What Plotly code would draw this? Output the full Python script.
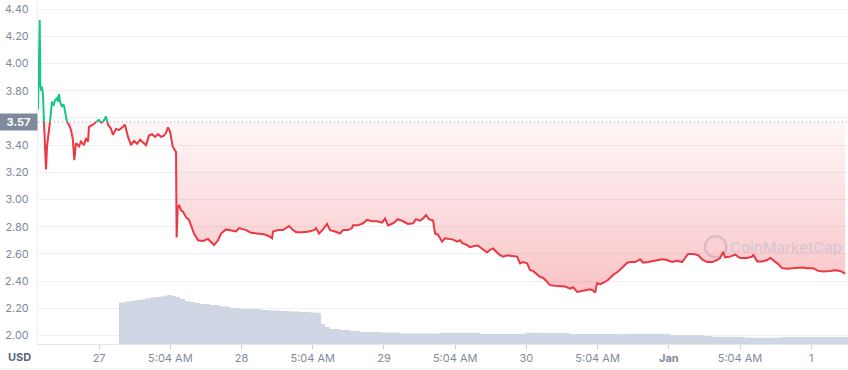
import plotly.graph_objects as go

# ---------------- data ----------------
base_price = 3.57  # reference / open price shown on the left

hours = [0.00, 0.29, 0.39, 0.54, 0.67, 0.84, 1.01, 1.18, 1.35, 1.52, 1.69, 1.85, 2.02, 2.19, 2.36, 2.61,
         2.87, 3.20, 3.37, 3.54, 3.71, 4.05, 4.21, 4.38, 4.64, 4.89, 5.22, 5.56, 5.85, 6.12, 6.40, 6.91,
         7.25, 7.75, 8.09, 8.43, 8.60, 9.27, 9.78, 10.28, 10.62, 10.96, 11.46, 11.80, 12.30, 12.64, 13.15,
         13.65, 14.33, 14.66, 15.17, 15.67, 16.18, 16.69, 17.19, 17.70, 18.20, 18.71, 19.21, 19.72, 20.23,
         20.73, 21.24, 21.57, 21.91, 22.25, 22.70, 23.09, 23.26, 23.36, 23.55, 23.77, 24.10, 24.44, 24.94,
         25.45, 25.79, 26.29, 26.97, 27.81, 28.65, 29.16, 29.66, 30.34, 30.84, 31.69, 32.53, 33.37, 33.88,
         34.55, 35.06, 35.90, 37.08, 38.09, 38.93, 39.44, 39.61, 40.45, 41.30, 41.80, 42.31, 42.98, 43.49,
         44.67, 45.68, 46.52, 46.86, 47.36, 48.04, 48.71, 49.22, 50.06, 50.90, 51.41, 52.25, 52.92, 53.09,
         53.93, 54.78, 55.45, 56.30, 57.14, 57.98, 58.49, 58.99, 59.83, 60.68, 61.52, 62.36, 63.21, 63.71,
         64.39, 64.89, 65.40, 65.90, 66.58, 66.91, 67.42, 68.09, 68.60, 69.10, 69.95, 70.62, 71.13, 71.47,
         72.31, 72.81, 73.66, 74.16, 75.01, 75.68, 76.18, 76.69, 77.36, 77.87, 78.37, 79.05, 79.89, 80.74,
         81.24, 81.75, 82.42, 82.93, 83.43, 84.11, 84.61, 85.12, 85.79, 86.30, 87.14, 87.99, 88.83, 89.67,
         90.18, 90.85, 91.36, 92.20, 93.04, 93.55, 93.89, 94.22, 94.73, 95.40, 96.08, 96.92, 97.76, 98.61,
         99.28, 99.78, 100.63, 101.47, 101.98, 102.82, 104.00, 105.18, 106.02, 106.86, 107.71, 108.55,
         109.05, 109.56, 110.40, 111.25, 111.92, 112.76, 113.61, 114.45, 114.95, 115.46, 115.79, 116.64,
         117.48, 118.32, 119.50, 120.35, 120.52, 121.19, 122.03, 122.88, 123.38, 123.89, 124.73, 125.40,
         126.25, 127.09, 127.93, 128.78, 129.62, 130.63, 131.47, 132.31, 133.49, 134.33, 135.17, 135.68,
         136.02]

price = [3.66, 4.32, 3.84, 3.80, 3.83, 3.77, 3.57, 3.40, 3.22, 3.39, 3.46, 3.51, 3.57, 3.66, 3.72, 3.69,
         3.73, 3.745, 3.72, 3.775, 3.72, 3.68, 3.70, 3.69, 3.62, 3.57, 3.55, 3.51, 3.45, 3.29, 3.415, 3.39,
         3.425, 3.40, 3.45, 3.425, 3.535, 3.55, 3.57, 3.585, 3.565, 3.57, 3.61, 3.55, 3.52, 3.475, 3.52,
         3.51, 3.535, 3.55, 3.46, 3.40, 3.43, 3.41, 3.44, 3.42, 3.40, 3.47, 3.48, 3.46, 3.48,
         3.46, 3.47, 3.49, 3.53, 3.50, 3.39, 3.36, 3.35, 2.72, 2.94, 2.96, 2.92, 2.91, 2.87,
         2.85, 2.81, 2.75, 2.70, 2.695, 2.71, 2.69, 2.665, 2.70, 2.75, 2.78, 2.775, 2.765, 2.79,
         2.78, 2.775, 2.755, 2.75, 2.745, 2.73, 2.715, 2.765, 2.775, 2.775, 2.79, 2.805, 2.775, 2.76,
         2.76, 2.765, 2.775, 2.79, 2.75, 2.78, 2.82, 2.775, 2.765, 2.75, 2.775, 2.775, 2.79, 2.81,
         2.81, 2.825, 2.85, 2.84, 2.84, 2.83, 2.86, 2.81, 2.825, 2.855, 2.84, 2.82, 2.825, 2.855,
         2.845, 2.86, 2.885, 2.855, 2.845, 2.75, 2.74, 2.69, 2.715, 2.71, 2.705, 2.69, 2.70, 2.68,
         2.665, 2.65, 2.66, 2.66, 2.63, 2.61, 2.63, 2.64, 2.61, 2.59, 2.58, 2.59, 2.585, 2.58,
         2.53, 2.54, 2.53, 2.48, 2.475, 2.445, 2.43, 2.425, 2.39, 2.37, 2.365, 2.36, 2.36, 2.345,
         2.355, 2.32, 2.325, 2.335, 2.34, 2.33, 2.315, 2.385, 2.375, 2.39, 2.41, 2.445, 2.47, 2.505,
         2.535, 2.54, 2.54, 2.56, 2.535, 2.54, 2.55, 2.56, 2.555, 2.54, 2.55, 2.54,
         2.57, 2.60, 2.60, 2.59, 2.56, 2.54, 2.54, 2.555, 2.57, 2.615, 2.575, 2.58,
         2.595, 2.57, 2.57, 2.58, 2.595, 2.545, 2.545, 2.555, 2.57, 2.555, 2.525, 2.495,
         2.49, 2.495, 2.50, 2.50, 2.495, 2.495, 2.475, 2.47, 2.475, 2.48, 2.475, 2.46,
         2.455]

vol_hours = [13.65, 14.66, 15.51, 16.35, 17.19, 18.03, 18.88, 19.72, 20.56, 21.41, 21.91, 22.59, 23.26,
             23.93, 24.78, 25.62, 26.46, 27.31, 28.99, 30.68, 32.36, 34.05, 35.73, 37.42, 39.11, 40.79,
             42.47, 44.16, 45.85, 47.19, 47.70, 48.37, 49.22, 50.90, 52.59, 54.28, 57.64, 61.02, 64.39,
             67.76, 72.81, 74.50, 81.24, 82.08, 84.61, 89.67, 98.10, 98.94, 105.68, 106.53, 111.58,
             112.42, 113.61, 118.32, 119.16, 124.22, 125.06, 136.5]
volume = [41.5, 42.5, 43, 44, 44.5, 45.5, 46.5, 47, 47.5, 48.5, 49, 48, 47,
          45, 43, 42, 41, 40, 39, 37.5, 36, 35, 35, 34, 33.5, 33,
          32.5, 32, 31.5, 31, 20, 17, 15, 14, 13, 12, 11.5, 10.5, 10.5,
          11.3, 11.3, 10, 10, 11.3, 11, 10, 9.7, 10.3, 10.3, 8.7, 8.7,
          8, 7.3, 7, 6.3, 6.3, 7, 7]

tick_hours = [10.3, 22.3, 34.3, 46.3, 58.3, 70.3, 82.3, 94.3, 106.3, 118.3, 130.3]
tick_text = ["27", "5:04 AM", "28", "5:04 AM", "29", "5:04 AM", "30", "5:04 AM", "<b>Jan</b>", "5:04 AM", "1"]
y_ticks = [2.0, 2.2, 2.4, 2.6, 2.8, 3.0, 3.2, 3.4, 3.6, 3.8, 4.0, 4.2, 4.4]
y_tick_text = ["2.00", "2.20", "2.40", "2.60", "2.80", "3.00", "3.20", "3.40", "", "3.80", "4.00", "4.20", "4.40"]

RED = "#ea3943"
GREEN = "#16c784"
TXT = "#808a9d"
FONT = "Inter, Roboto, sans-serif"

# ---------- split line at the base price (insert crossing points) ----------
xs, ys = [hours[0]], [price[0]]
for i in range(1, len(hours)):
    h0, p0, h1, p1 = hours[i - 1], price[i - 1], hours[i], price[i]
    if (p0 - base_price) * (p1 - base_price) < 0:
        t = (base_price - p0) / (p1 - p0)
        xs.append(h0 + t * (h1 - h0))
        ys.append(base_price)
    xs.append(h1)
    ys.append(p1)

red_y = [y if y <= base_price else None for y in ys]
green_y = [y if y >= base_price else None for y in ys]
fill_y = [min(y, base_price) for y in ys]

fig = go.Figure()

# volume area (secondary axis)
fig.add_trace(go.Scatter(x=vol_hours, y=volume, yaxis="y2", mode="lines",
                         line=dict(width=0, color="#cfd6e4", shape="hv"),
                         fill="tozeroy", fillcolor="#cfd6e4", hoverinfo="skip"))

# baseline + gradient fill below base price
fig.add_trace(go.Scatter(x=xs, y=[base_price] * len(xs), mode="lines",
                         line=dict(width=0), hoverinfo="skip"))
fig.add_trace(go.Scatter(x=xs, y=fill_y, mode="lines", line=dict(width=0),
                         fill="tonexty",
                         fillgradient=dict(type="vertical",
                                           colorscale=[[0, "rgba(234,57,67,0.30)"],
                                                       [1, "rgba(234,57,67,0.04)"]],
                                           start=2.32, stop=base_price),
                         hoverinfo="skip"))

fig.add_trace(go.Scatter(x=xs, y=red_y, mode="lines", line=dict(color=RED, width=2),
                         connectgaps=False))
fig.add_trace(go.Scatter(x=xs, y=green_y, mode="lines", line=dict(color=GREEN, width=2),
                         connectgaps=False))

# dotted base price line
fig.add_shape(type="line", xref="paper", x0=0, x1=1, yref="y", y0=base_price, y1=base_price,
              line=dict(color="#9aa0a8", width=1, dash="1px,3px"))

# watermark logo
fig.add_shape(type="circle", xref="x", yref="y", x0=112.4, x1=116.0, y0=2.575, y1=2.73,
              line=dict(color="rgba(170,185,210,0.45)", width=2.5), layer="below")
fig.add_annotation(x=135.8, y=2.65, xref="x", yref="y", text="CoinMarketCap", showarrow=False,
                   xanchor="right", yanchor="middle",
                   font=dict(family=FONT, size=15, color="rgba(170,185,210,0.45)", weight=500))

# base price label
fig.add_annotation(xref="paper", x=0, xanchor="right", yref="y", y=base_price, yanchor="middle",
                   text="<b>3.57</b>", showarrow=False, bgcolor="#808a9d", width=33, height=12,
                   borderpad=2, font=dict(family=FONT, size=11, color="white"))

# USD label
fig.add_annotation(xref="paper", x=-19 / 810, xanchor="center", yref="paper", y=-13 / 344,
                   yanchor="middle", text="<b>USD</b>", showarrow=False,
                   font=dict(family=FONT, size=11, color="#58667e"))

# bottom border
fig.add_shape(type="line", xref="paper", x0=-38 / 810, x1=1, yref="paper", y0=-25 / 344, y1=-25 / 344,
              line=dict(color="#eff2f5", width=1))

fig.update_layout(
    width=848, height=370,
    margin=dict(l=38, r=0, t=0, b=26),
    paper_bgcolor="white", plot_bgcolor="white",
    showlegend=False,
    font=dict(family=FONT, size=11, color=TXT),
    xaxis=dict(range=[0, 136.5], tickvals=tick_hours, ticktext=tick_text,
               showgrid=False, zeroline=False, showline=True, linecolor="#e3e6eb", linewidth=1,
               ticks="outside", ticklen=4, tickcolor="#c8ccd3",
               tickfont=dict(family=FONT, size=11, color=TXT), fixedrange=True),
    yaxis=dict(range=[1.9375, 4.4669], tickvals=y_ticks, ticktext=y_tick_text,
               showgrid=True, gridcolor="#eef0f3", gridwidth=1, zeroline=False,
               showline=True, linecolor="#eef0f3", ticks="", ticklabelstandoff=6,
               tickfont=dict(family=FONT, size=11, color=TXT), fixedrange=True),
    yaxis2=dict(range=[0, 344], overlaying="y", visible=False, fixedrange=True),
)

fig.write_html("out.html")
